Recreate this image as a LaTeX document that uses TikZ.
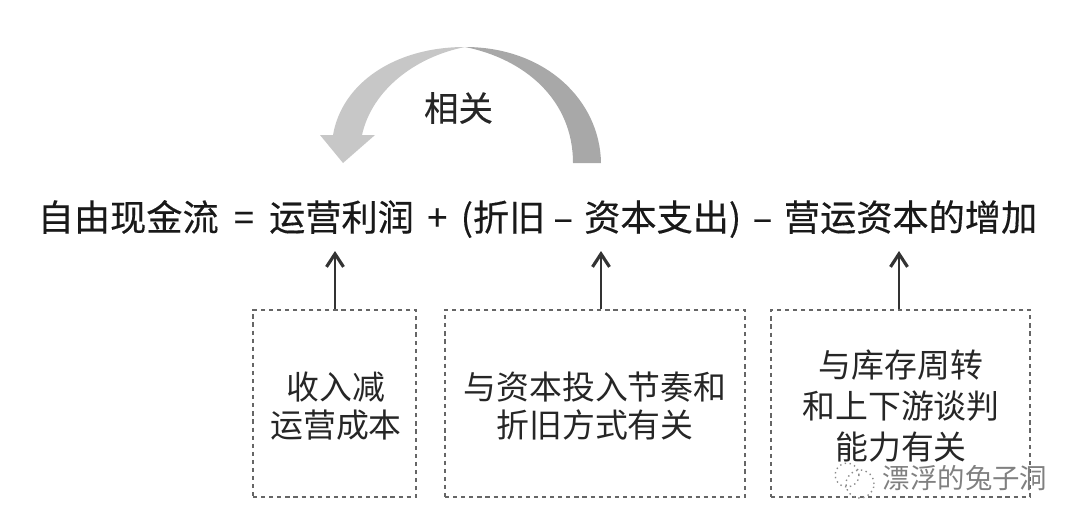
\documentclass[tikz,border=0pt]{standalone}
\usepackage{fontspec}
\usetikzlibrary{arrows.meta}
\setmainfont{Noto Sans CJK SC}
\newfontfamily\heavycjk[FakeBold=0.35]{Noto Sans CJK SC}

\tikzset{
  notebox/.style={draw=black!60, dash pattern=on 1.2pt off 1.1pt, line width=0.55pt, inner sep=0pt},
  notetext/.style={align=center, font=\fontsize{9.35pt}{10.6pt}\selectfont, text=black!85},
  uparrow/.style={-{Straight Barb[length=1.3mm,width=1.7mm,line width=0.9pt]}, line width=0.55pt, black!80},
}

\begin{document}
\begin{tikzpicture}
\useasboundingbox (0,0) rectangle (10.8,5.25);

% Curved arrow
\fill[black!34] (6.01,3.62) .. controls (6.00,4.25) and (5.45,4.78) .. (4.65,4.78)
  .. controls (5.25,4.66) and (5.73,4.25) .. (5.73,3.62) -- cycle;
\fill[black!22] (4.65,4.78) .. controls (3.95,4.78) and (3.42,4.42) .. (3.33,3.90)
  -- (3.20,3.90) -- (3.43,3.62) -- (3.75,3.90) -- (3.62,3.90)
  .. controls (3.72,4.35) and (4.15,4.68) .. (4.65,4.78) -- cycle;
\node[font=\heavycjk\fontsize{9.8pt}{11pt}\selectfont, text=black!85] (corr) at (4.585,4.17) {相关};

% Formula
\node[font=\heavycjk\fontsize{10.3pt}{12pt}\selectfont, text=black!90, inner sep=0pt] (formula) at (5.375,3.06)
  {自由现金流\hspace{2pt} = \hspace{2pt}运营利润\hspace{1.5pt} + \hspace{1.5pt}(折旧 –\hspace{0.9pt} 资本支出)\hspace{1pt} – \hspace{1pt}营运资本的增加};
\coordinate (tip1) at (3.35,2.74);
\coordinate (tip2) at (6.01,2.74);
\coordinate (tip3) at (8.99,2.74);

% Boxes
\node[notebox, minimum width=1.63cm, minimum height=1.87cm] (box1) at (3.345,1.215) {};
\node[notebox, minimum width=3.00cm, minimum height=1.87cm] (box2) at (5.95,1.215) {};
\node[notebox, minimum width=2.59cm, minimum height=1.87cm] (box3) at (9.005,1.215) {};

\node[notetext] (text1) at (3.36,1.19) {收入减\\运营成本};
\node[notetext] (text2) at (5.95,1.19) {与资本投入节奏和\\折旧方式有关};
\node[notetext, font=\fontsize{9.35pt}{11.7pt}\selectfont] (text3) at (9.01,1.19) {与库存周转\\和上下游谈判\\能力有关};

% Arrows
\draw[uparrow] (tip1 |- box1.north) -- (tip1);
\draw[uparrow] (tip2 |- box2.north) -- (tip2);
\draw[uparrow] (tip3 |- box3.north) -- (tip3);

% Watermark
\node[font=\fontsize{7.8pt}{9pt}\selectfont, text=black!50] (mark) at (9.65,0.47) {漂浮的兔子洞};
\draw[black!45, densely dotted, line width=0.4pt] (8.47,0.50) circle (0.12);
\draw[black!45, densely dotted, line width=0.4pt] (8.60,0.41) circle (0.14);
\end{tikzpicture}
\end{document}
